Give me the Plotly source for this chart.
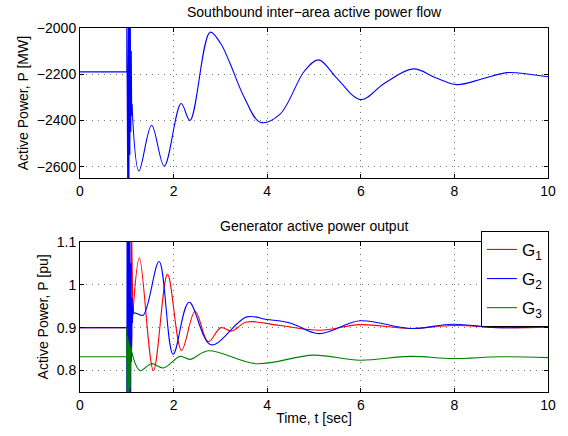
import plotly.graph_objects as go

# ---------------- Top: Southbound inter-area active power flow ----------------
flow_pre_t = [0, 1.0]
flow_pre_p = [-2190, -2190]
flow_fault_t = [1.0, 1.0, 1.02, 1.035, 1.045, 1.055, 1.065, 1.075, 1.085, 1.095, 1.105, 1.11]
flow_fault_p = [-2190, -1950, -2700, -1950, -2700, -1950, -2550, -1970, -2450, -2100, -2380, -2330]
flow_post_t = [1.11, 1.26, 1.53, 1.80, 2.16, 2.35, 2.78, 3.0, 3.2, 3.5, 3.85, 4.27, 4.8, 5.1, 5.5, 6.0,
               6.5, 7.12, 7.6, 8.05, 8.6, 9.12, 9.6, 10]
flow_post_p = [-2330, -2619, -2421, -2598, -2327, -2400, -2018, -2065, -2150, -2296, -2408, -2374,
               -2185, -2138, -2220, -2310, -2240, -2177, -2215, -2245, -2220, -2193, -2200, -2211]

# ---------------- Bottom: Generator active power output ----------------
g1_pre_t = [0, 1.0]
g1_pre_p = [0.9, 0.9]
g1_fault_t = [1.0, 1.03, 1.06, 1.08, 1.10, 1.13]
g1_fault_p = [0.9, 0.75, 1.05, 0.80, 1.15, 0.93]
g1_post_t = [1.13, 1.27, 1.57, 1.87, 2.17, 2.46, 2.74, 3.01, 3.24, 3.56, 4.27, 5.13, 5.98, 7.05, 7.97, 9.0, 10]
g1_post_p = [0.93, 1.063, 0.80, 1.024, 0.847, 0.938, 0.867, 0.90, 0.892, 0.913, 0.905, 0.894, 0.907,
             0.898, 0.905, 0.90, 0.901]

g2_pre_t = [0, 1.0]
g2_pre_p = [0.9, 0.9]
g2_fault_t = [1.0, 1.0, 1.006, 1.012, 1.018, 1.024, 1.030, 1.036, 1.042, 1.048, 1.054, 1.060, 1.066,
              1.072, 1.078, 1.084, 1.090, 1.096, 1.102, 1.108, 1.114, 1.12, 1.13, 1.14]
g2_fault_p = [0.9, 0.7, 1.15, 0.7, 1.15, 0.7, 1.15, 0.7, 1.15, 0.7, 1.15, 0.7, 1.15,
              0.72, 1.12, 0.76, 1.05, 0.82, 1.0, 0.88, 0.97, 0.91, 0.95, 0.935]
g2_post_t = [1.14, 1.21, 1.35, 1.69, 1.99, 2.33, 2.80, 3.56, 3.99, 4.49, 5.11, 5.98, 7.05, 7.97, 8.9, 10]
g2_post_p = [0.935, 0.933, 0.929, 1.054, 0.838, 0.959, 0.86, 0.925, 0.919, 0.911, 0.886, 0.916,
             0.898, 0.908, 0.90, 0.903]

g3_pre_t = [0, 1.0]
g3_pre_p = [0.832, 0.832]
g3_fault_t = [1.0, 1.0, 1.01, 1.02, 1.03, 1.04, 1.05, 1.06, 1.07, 1.08]
g3_fault_p = [0.832, 0.9, 0.7, 0.88, 0.7, 0.87, 0.72, 0.86, 0.76, 0.855]
g3_post_t = [1.08, 1.28, 1.53, 1.78, 2.14, 2.35, 2.74, 3.77, 4.99, 5.98, 7.05, 7.97, 8.97, 10]
g3_post_p = [0.855, 0.80, 0.816, 0.806, 0.833, 0.826, 0.846, 0.816, 0.836, 0.824, 0.833, 0.828, 0.832, 0.83]

x_ticks = [0, 2, 4, 6, 8, 10]
top_yticks = [-2600, -2400, -2200, -2000]
bot_yticks = [0.8, 0.9, 1.0, 1.1]
bot_yticklabels = ["0.8", "0.9", "1", "1.1"]

BLUE = "#0000FF"
RED = "#FF0000"
GREEN = "#008000"

fig = go.Figure()

def add(t, p, color, xa, ya, shape, name, group, show):
    fig.add_trace(go.Scatter(
        x=t, y=p, mode="lines", xaxis=xa, yaxis=ya,
        line=dict(color=color, width=1.1, shape=shape),
        name=name, legendgroup=group, showlegend=show, hoverinfo="skip"))

# top
add(flow_pre_t, flow_pre_p, BLUE, "x", "y", "linear", "flow", "f", False)
add(flow_fault_t, flow_fault_p, BLUE, "x", "y", "linear", "flow", "f", False)
add(flow_post_t, flow_post_p, BLUE, "x", "y", "spline", "flow", "f", False)

# bottom
add(g1_pre_t, g1_pre_p, RED, "x2", "y2", "linear", "G<sub>1</sub>", "g1", True)
add(g1_fault_t, g1_fault_p, RED, "x2", "y2", "linear", "G1", "g1", False)
add(g1_post_t, g1_post_p, RED, "x2", "y2", "spline", "G1", "g1", False)
add(g2_pre_t, g2_pre_p, BLUE, "x2", "y2", "linear", "G<sub>2</sub>", "g2", True)
add(g2_fault_t, g2_fault_p, BLUE, "x2", "y2", "linear", "G2", "g2", False)
add(g2_post_t, g2_post_p, BLUE, "x2", "y2", "spline", "G2", "g2", False)
add(g3_pre_t, g3_pre_p, GREEN, "x2", "y2", "linear", "G<sub>3</sub>", "g3", True)
add(g3_fault_t, g3_fault_p, GREEN, "x2", "y2", "linear", "G3", "g3", False)
add(g3_post_t, g3_post_p, GREEN, "x2", "y2", "spline", "G3", "g3", False)

FONT = "Liberation Sans, Arial, Helvetica, sans-serif"

axis_common = dict(
    showline=True, linecolor="black", linewidth=1, mirror="ticks",
    ticks="inside", ticklen=4, tickcolor="black",
    showgrid=True, gridcolor="#777777", griddash="1px,5px", gridwidth=1,
    zeroline=False, tickfont=dict(size=14, color="black", family=FONT),
)

fig.update_layout(
    width=568, height=436,
    margin=dict(l=80, r=20, t=28, b=42),
    paper_bgcolor="white", plot_bgcolor="white",
    font=dict(family=FONT, size=14, color="black"),
    xaxis=dict(domain=[0, 1], anchor="y", range=[0, 10], tickvals=x_ticks, **axis_common),
    yaxis=dict(domain=[0.5874, 1.0], anchor="x", range=[-2650, -2000], tickvals=top_yticks,
               title=dict(text="Active Power, P [MW]", font=dict(size=14), standoff=4), **axis_common),
    xaxis2=dict(domain=[0, 1], anchor="y2", range=[0, 10], tickvals=x_ticks,
                title=dict(text="Time, t [sec]", font=dict(size=14), standoff=1), **axis_common),
    yaxis2=dict(domain=[0, 0.4126], anchor="x2", range=[0.75, 1.1], tickvals=bot_yticks,
                ticktext=bot_yticklabels,
                title=dict(text="Active Power, P [pu]", font=dict(size=14), standoff=4), **axis_common),
    legend=dict(x=1.002, xanchor="right", y=0.4426, yanchor="top",
                bordercolor="black", borderwidth=1, bgcolor="white",
                font=dict(size=17, family=FONT), tracegroupgap=4, traceorder="grouped"),
    showlegend=True,
    annotations=[
        dict(text="Southbound inter\u2212area active power flow", xref="paper", yref="paper",
             x=0.5, y=1.0, yshift=6, xanchor="center", yanchor="bottom", showarrow=False,
             font=dict(size=14)),
        dict(text="Generator active power output", xref="paper", yref="paper",
             x=0.5, y=0.4126, yshift=6, xanchor="center", yanchor="bottom", showarrow=False,
             font=dict(size=14)),
    ],
)

fig.write_html("out.html")
